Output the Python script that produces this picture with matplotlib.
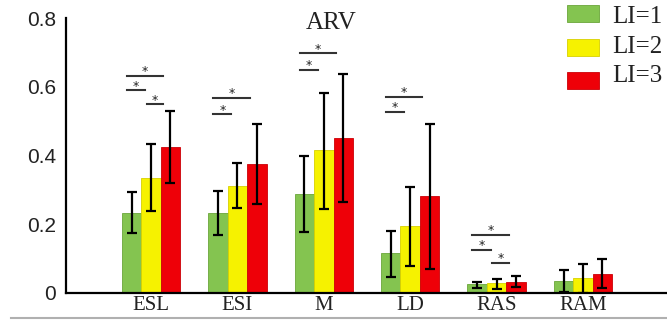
import numpy as np
import matplotlib
matplotlib.use("Agg")
import matplotlib.pyplot as plt
from matplotlib.patches import Rectangle
from matplotlib.lines import Line2D

# data
muscles = ["ESL", "ESI", "M", "LD", "RAS", "RAM"]
levels = ["LI=1", "LI=2", "LI=3"]

li1_mean = [0.233, 0.232, 0.288, 0.115, 0.025, 0.035]
li1_low = [0.175, 0.168, 0.177, 0.048, 0.014, 0.002]
li1_high = [0.293, 0.297, 0.400, 0.181, 0.033, 0.067]

li2_mean = [0.334, 0.311, 0.415, 0.195, 0.028, 0.045]
li2_low = [0.238, 0.247, 0.244, 0.080, 0.013, 0.000]
li2_high = [0.433, 0.378, 0.581, 0.307, 0.040, 0.084]

li3_mean = [0.424, 0.375, 0.450, 0.282, 0.033, 0.055]
li3_low = [0.320, 0.259, 0.264, 0.070, 0.018, 0.014]
li3_high = [0.529, 0.492, 0.637, 0.493, 0.050, 0.099]

# significance marks: (muscle index, compared pair, line height)
sig_group = [0, 0, 0, 1, 1, 2, 2, 3, 3, 4, 4, 4]
sig_pair = ["13", "12", "23", "13", "12", "13", "12", "13", "12", "13", "12", "23"]
sig_y = [0.631, 0.590, 0.549, 0.567, 0.520, 0.697, 0.650, 0.570, 0.527, 0.169, 0.125, 0.087]

colors = ["#84c450", "#f6f200", "#ee0008"]
edge_colors = ["#6aa63a", "#d8d000", "#cc0006"]

fig = plt.figure(figsize=(6.67, 3.2), dpi=100)
ax = fig.add_axes([66 / 667, 27 / 320, 601 / 667, 275 / 320])

x = np.arange(len(muscles))
w = 0.225
means = [li1_mean, li2_mean, li3_mean]
lows = [li1_low, li2_low, li3_low]
highs = [li1_high, li2_high, li3_high]

for k in range(3):
    m = np.array(means[k])
    err = [m - np.array(lows[k]), np.array(highs[k]) - m]
    ax.bar(x + (k - 1) * w, m, width=w, color=colors[k], edgecolor=edge_colors[k],
           linewidth=0.6, zorder=2)
    ax.errorbar(x + (k - 1) * w, m, yerr=err, fmt="none", ecolor="black",
                elinewidth=1.6, capsize=3.5, capthick=1.6, zorder=3)

# significance lines with stars
spans = {"13": (-0.28, 0.14), "12": (-0.28, -0.07), "23": (-0.05, 0.14)}
for g, p, yy in zip(sig_group, sig_pair, sig_y):
    a, b = spans[p]
    ax.plot([g + a, g + b], [yy, yy], color="#333333", lw=1.5, zorder=3)
    ax.text(g + (a + b) / 2, yy + 0.012, "*", ha="center", va="center",
            fontsize=9, color="#222222", family="DejaVu Sans")

ax.set_xlim(-0.984, 5.972)
ax.set_ylim(0, 0.8)
ax.spines["top"].set_visible(False)
ax.spines["right"].set_visible(False)
ax.spines["left"].set_linewidth(1.6)
ax.spines["bottom"].set_linewidth(1.6)
ax.tick_params(length=0)
ax.set_xticks(x)
ax.set_xticklabels(muscles, family="Liberation Serif", fontsize=15, color="#222222")
ax.set_yticks([0, 0.2, 0.4, 0.6, 0.8])
ax.set_yticklabels(["0", "0.2", "0.4", "0.6", "0.8"], family="Liberation Sans",
                   fontsize=15, color="#222222")
ax.tick_params(axis="y", pad=7)
ax.tick_params(axis="x", pad=2)

ax.text(2.09, 0.786, "ARV", ha="center", va="center", family="Liberation Serif",
        fontsize=18, color="#222222")

# legend drawn by hand at the top right corner
for k in range(3):
    top = [5, 39, 72][k]
    fig.add_artist(Rectangle((567 / 667, 1 - (top + 17) / 320), 32 / 667, 17 / 320,
                             transform=fig.transFigure, facecolor=colors[k],
                             edgecolor=edge_colors[k], linewidth=0.6))
    fig.text(612 / 667, 1 - [17, 47, 76][k] / 320, levels[k], ha="left", va="center",
             family="Liberation Serif", fontsize=18, color="#222222")

fig.add_artist(Line2D([11 / 667, 1], [2 / 320, 2 / 320], transform=fig.transFigure,
                      color="#b0b0b0", lw=1.5))

fig.savefig("out.png", dpi=100)
